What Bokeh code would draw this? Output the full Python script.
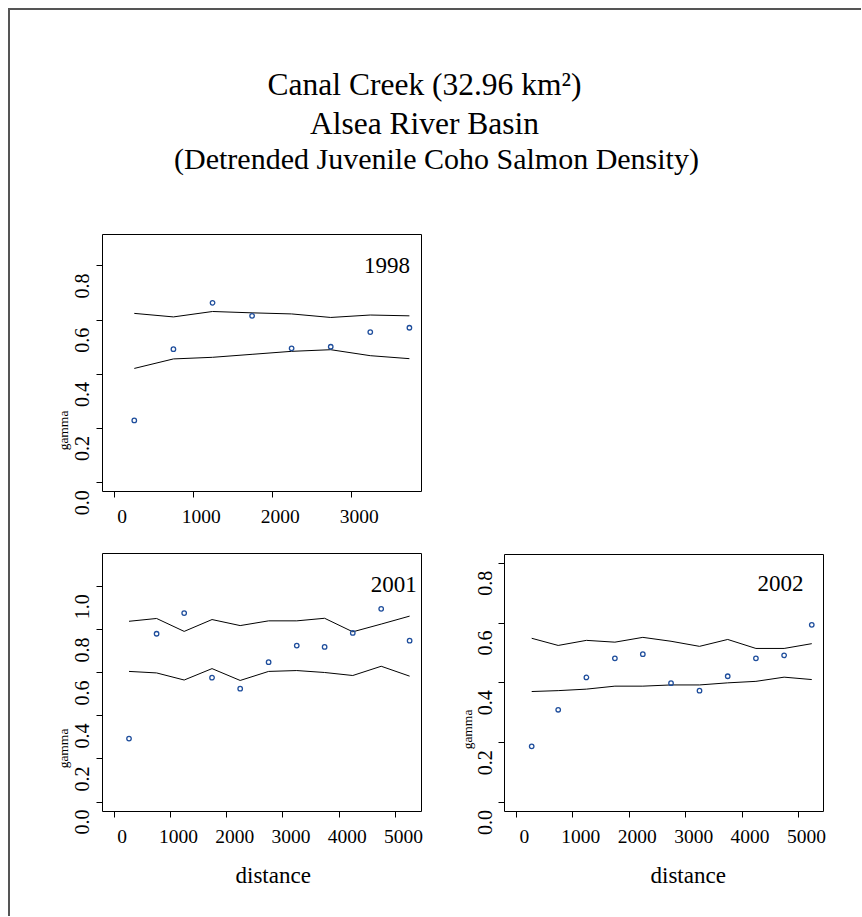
import math
from bokeh.plotting import figure
from bokeh.models import (Range1d, LinearAxis, FixedTicker, Label, ColumnDataSource,
                          CustomJSTickFormatter, Spacer, Title, Plot)
from bokeh.layouts import column, row
from bokeh.embed import file_html
from bokeh.resources import INLINE
from bokeh.core.properties import value

SERIF = "Liberation Serif"
HAS_FRAME_ALIGN = "frame_align" in Plot.properties()

# ---------------- data ----------------
title_lines = ["Canal Creek (32.96 km\u00b2)", "Alsea River Basin",
               "(Detrended Juvenile Coho Salmon Density)"]

dist_1998 = [255, 750, 1245, 1745, 2245, 2740, 3240, 3735]
gamma_1998 = [0.230, 0.493, 0.664, 0.616, 0.496, 0.502, 0.556, 0.572]
upper_1998 = [0.625, 0.612, 0.632, 0.627, 0.623, 0.610, 0.619, 0.616]
lower_1998 = [0.422, 0.457, 0.463, 0.474, 0.485, 0.491, 0.469, 0.458]

dist_2001 = [265, 755, 1245, 1740, 2240, 2745, 3245, 3740, 4240, 4745, 5250]
gamma_2001 = [0.295, 0.782, 0.878, 0.578, 0.527, 0.650, 0.727, 0.721, 0.786, 0.898, 0.750]
upper_2001 = [0.840, 0.853, 0.793, 0.848, 0.820, 0.842, 0.842, 0.854, 0.791, 0.827, 0.864]
lower_2001 = [0.607, 0.600, 0.567, 0.620, 0.565, 0.607, 0.611, 0.602, 0.588, 0.631, 0.585]

dist_2002 = [270, 740, 1240, 1745, 2240, 2740, 3245, 3745, 4245, 4745, 5235]
gamma_2002 = [0.188, 0.310, 0.418, 0.482, 0.496, 0.399, 0.374, 0.422, 0.482, 0.492, 0.594]
upper_2002 = [0.549, 0.525, 0.542, 0.536, 0.552, 0.539, 0.522, 0.545, 0.515, 0.515, 0.531]
lower_2002 = [0.371, 0.374, 0.379, 0.389, 0.389, 0.393, 0.393, 0.400, 0.405, 0.419, 0.411]

x_ticks_1998 = [0, 1000, 2000, 3000]
x_ticks_long = [0, 1000, 2000, 3000, 4000, 5000]
y_ticks_1998 = [0.0, 0.2, 0.4, 0.6, 0.8]
y_ticks_2001 = [0.0, 0.2, 0.4, 0.6, 0.8, 1.0]
y_ticks_2002 = [0.0, 0.2, 0.4, 0.6, 0.8]

x_label = "distance"
y_label = "gamma"

# ---------------- styling ----------------
PT_COLOR = "#1f4e9c"
X_TICK_FONT = "19.5px"
Y_TICK_FONT = "20px"
X_LABEL_SHIFT = 8      # px, x tick labels drawn right of their ticks
Y_LABEL_SHIFT = 20     # px, y tick labels drawn below their ticks
VTEXT_ANGLE = math.pi / 2


def no_align(fig):
    if HAS_FRAME_ALIGN:
        fig.frame_align = False
    return fig


def make_panel(width, height, borders, xr, yr, xticks, dist, gam, up, lo, yticks,
               year, year_x, year_y, dist_left=None):
    bl, br, bt, bb = borders
    p = figure(width=width, height=height, x_range=Range1d(*xr), y_range=Range1d(*yr),
               x_axis_location=None, y_axis_location=None, output_backend="svg",
               toolbar_location=None, min_border_left=bl, min_border_right=br,
               min_border_top=bt, min_border_bottom=bb)
    no_align(p)
    p.grid.visible = False
    p.outline_line_color = "black"
    p.outline_line_alpha = 1
    p.outline_line_width = 1
    p.background_fill_color = "white"
    p.border_fill_color = "white"

    fw = width - bl - br
    xpx = fw / (xr[1] - xr[0])
    dx = X_LABEL_SHIFT / xpx
    p.extra_x_ranges = {"xlab": Range1d(xr[0] - dx, xr[1] - dx)}

    blank = CustomJSTickFormatter(code="return ''")
    ax_x = LinearAxis(ticker=FixedTicker(ticks=xticks), formatter=blank,
                      major_tick_out=6, major_tick_in=0, minor_tick_line_color=None,
                      major_tick_line_color="black", axis_line_color=None,
                      major_label_text_font_size="1px", major_label_standoff=0)
    ax_y = LinearAxis(ticker=FixedTicker(ticks=yticks), formatter=blank,
                      major_tick_out=6, major_tick_in=0, minor_tick_line_color=None,
                      major_tick_line_color="black", axis_line_color=None,
                      major_label_text_font_size="1px", major_label_standoff=0)
    p.add_layout(ax_x, "below")
    p.add_layout(ax_y, "left")
    lab_x = LinearAxis(x_range_name="xlab", ticker=FixedTicker(ticks=xticks),
                       major_tick_line_color=None, major_tick_out=0, major_tick_in=0,
                       minor_tick_line_color=None, axis_line_color=None,
                       major_label_text_font=SERIF, major_label_text_font_size=X_TICK_FONT,
                       major_label_text_color="black", major_label_standoff=12)
    p.add_layout(lab_x, "below")

    p.line(dist, up, line_color="black", line_width=1)
    p.line(dist, lo, line_color="black", line_width=1)
    p.scatter(dist, gam, marker="circle", size=4.5, fill_color=None,
              line_color=PT_COLOR, line_width=1.3)

    p.add_layout(Label(x=year_x, y=year_y, text=year, text_align="right",
                       text_baseline="middle", text_font=SERIF, text_font_size="23px",
                       text_color="black"))
    if dist_left is not None:
        p.add_layout(Title(text=x_label, align="left", offset=dist_left, standoff=30,
                           text_font=SERIF, text_font_size="23px",
                           text_font_style="normal", text_color="black"), "below")
    return p


def make_strip(width, height, top_border, panel_yr, panel_fh, yticks, lab_x,
               gamma_x, gamma_rel_y):
    """Column left of a panel holding its rotated y tick labels and the y label."""
    ypx = panel_fh / (panel_yr[1] - panel_yr[0])
    fh = height - top_border
    top = panel_yr[1] + Y_LABEL_SHIFT / ypx
    bottom = top - fh / ypx
    s = figure(width=width, height=height, x_range=Range1d(0, width),
               y_range=Range1d(bottom, top), x_axis_location=None, y_axis_location=None,
               output_backend="svg", toolbar_location=None, min_border_left=0,
               min_border_right=0, min_border_top=top_border, min_border_bottom=0)
    no_align(s)
    s.grid.visible = False
    s.outline_line_color = None
    s.background_fill_color = "white"
    s.border_fill_color = "white"
    src = ColumnDataSource(dict(x=[lab_x] * len(yticks), y=yticks,
                                text=[f"{t:.1f}" for t in yticks]))
    s.text(x="x", y="y", text="text", source=src, angle=VTEXT_ANGLE,
           text_align="center", text_baseline="middle", text_font=value(SERIF),
           text_font_size=Y_TICK_FONT, text_color="black")
    s.text(x=[gamma_x], y=[top - gamma_rel_y / ypx], text=[y_label], angle=VTEXT_ANGLE,
           text_align="center", text_baseline="middle", text_font=value(SERIF),
           text_font_size="13.5px", text_color="black")
    return s


# ---------------- title ----------------
TW, TH = 851, 190
tp = figure(width=TW, height=TH, x_range=Range1d(0, TW), y_range=Range1d(0, TH),
            x_axis_location=None, y_axis_location=None, output_backend="svg",
            toolbar_location=None, min_border=0)
no_align(tp)
tp.grid.visible = False
tp.outline_line_color = None
for line, tx, ty, fs in zip(title_lines, [414, 414, 426], [TH - 74, TH - 113, TH - 148],
                            ["31.5px", "31.5px", "30px"]):
    tp.text(x=[tx], y=[ty], text=[line], text_font=value(SERIF), text_font_size=fs,
            text_align="center", text_baseline="middle", text_color="black")

# ---------------- panels ----------------
YR98, YR01, YR02 = (-0.032, 0.916), (-0.044, 1.155), (-0.030, 0.829)

p98 = make_panel(347, 330, (9, 19, 34, 39), (-147, 3888), YR98, x_ticks_1998,
                 dist_1998, gamma_1998, upper_1998, lower_1998, y_ticks_1998,
                 "1998", 3742, 0.80)
p01 = make_panel(347, 386, (9, 19, 23, 105), (-206, 5461), YR01, x_ticks_long,
                 dist_2001, gamma_2001, upper_2001, lower_2001, y_ticks_2001,
                 "2001", 5377, 1.011, 133)
p02 = make_panel(358, 386, (8, 31, 24, 105), (-212, 5443), YR02, x_ticks_long,
                 dist_2002, gamma_2002, upper_2002, lower_2002, y_ticks_2002,
                 "2002", 5090, 0.732, 146)

s98 = make_strip(83, 330, 34, YR98, 257, y_ticks_1998, 71.5, 52.5, 196)
s01 = make_strip(83, 386, 23, YR01, 258, y_ticks_2001, 71.5, 52.5, 195)
s02 = make_strip(56, 386, 24, YR02, 257, y_ticks_2002, 44.5, 26.7, 175)

inner = column(tp, row(s98, p98), row(s01, p01, s02, p02),
               styles={"border-top": "2px solid #555555", "border-left": "2px solid #555555"})
layout = column(Spacer(width=8, height=8), row(Spacer(width=8, height=8), inner))

open("out.html", "w").write(file_html(layout, INLINE))
